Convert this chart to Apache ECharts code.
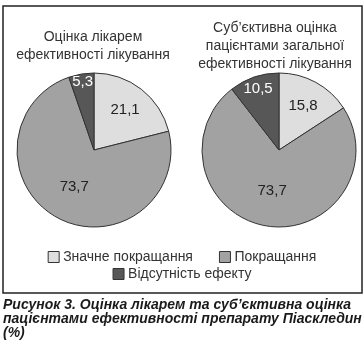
<!DOCTYPE html>
<html><head><meta charset="utf-8">
<script src="https://cdn.jsdelivr.net/npm/echarts@6/dist/echarts.min.js"></script>
<style>html,body{margin:0;padding:0;background:#fff}#c{width:364px;height:354px}</style>
</head><body><div id="c"></div>
<script>
const categories = ['Значне покращання', 'Покращання', 'Відсутність ефекту'];
const doctorValues = [21.1, 73.7, 5.3];
const patientValues = [15.8, 73.7, 10.5];
const doctorTitle = 'Оцінка лікарем\nефективності лікування';
const patientTitle = 'Суб’єктивна оцінка\nпацієнтами загальної\nефективності лікування';
const captionText = 'Рисунок 3. Оцінка лікарем та суб’єктивна оцінка\nпацієнтами ефективності препарату Піаскледин\n(%)';

const colors = ['#dedede', '#a2a2a2', '#575757'];
const labelColors = ['#222', '#222', '#fff'];
const FONT = 'Liberation Sans, Arial, sans-serif';
const R = 77;

function fmt(v){ return String(v).replace('.', ','); }

function mkData(vals, showIdx, visible){
  return vals.map((v,i)=>({
    name: categories[i], value: v,
    itemStyle: visible ? {color: colors[i], borderColor:'#333', borderWidth:1} : {color:'rgba(0,0,0,0)', borderWidth:0},
    label: {show: i===showIdx, color: labelColors[i]}
  }));
}

function pieSet(vals, cx, cy, factors){
  const out = [];
  vals.forEach((v, i) => {
    const rr = Math.round(R * factors[i] * 2);
    const visible = i === 1;
    out.push({
      type:'pie', center:[cx, cy], radius:[0, visible ? R : rr],
      startAngle: 90, clockwise: true, silent: true, animation:false,
      z: visible ? 2 : 3,
      label:{position:'inside', fontFamily: FONT, fontSize:15, formatter: p => fmt(p.value)},
      labelLine:{show:false},
      emphasis:{disabled:true},
      data: mkData(vals, i, visible)
    });
  });
  return out;
}

function legendItem(i){
  return {name: categories[i], itemStyle:{color: colors[i], borderColor:'#333', borderWidth:1}};
}

const legendText = {fontFamily:FONT, fontSize:14, color:'#333', padding:[0,0,0,-1]};

const chart = echarts.init(document.getElementById('c'), null, {renderer:'canvas'});
chart.setOption({
  backgroundColor:'#fff',
  animation:false,
  legend:[
    {data:[legendItem(0), legendItem(1)], top:245, left:'center', itemWidth:11, itemHeight:11, itemGap:26,
     icon:'rect', selectedMode:false, textStyle:legendText},
    {data:[legendItem(2)], top:262, left:'center', itemWidth:11, itemHeight:11,
     icon:'rect', selectedMode:false, textStyle:legendText}
  ],
  graphic:[
    {type:'rect', shape:{x:3, y:6, width:359, height:287}, style:{fill:'none', stroke:'#222', lineWidth:1.5}, z:-1},
    {type:'text', x:93, y:28, style:{text:doctorTitle, font:'14px '+FONT, fill:'#333', textAlign:'center', lineHeight:18}},
    {type:'text', x:275, y:19, style:{text:patientTitle, font:'14px '+FONT, fill:'#333', textAlign:'center', lineHeight:18}},
    {type:'text', x:3, y:298, style:{text:captionText, font:'italic bold 14px '+FONT, fill:'#1a1a1a', textAlign:'left', lineHeight:14}}
  ],
  series: [].concat(
    pieSet(doctorValues, 94, 150, [0.62, 0.5, 0.86]),
    pieSet(patientValues, 279, 150, [0.62, 0.5, 0.8])
  )
});
</script></body></html>
